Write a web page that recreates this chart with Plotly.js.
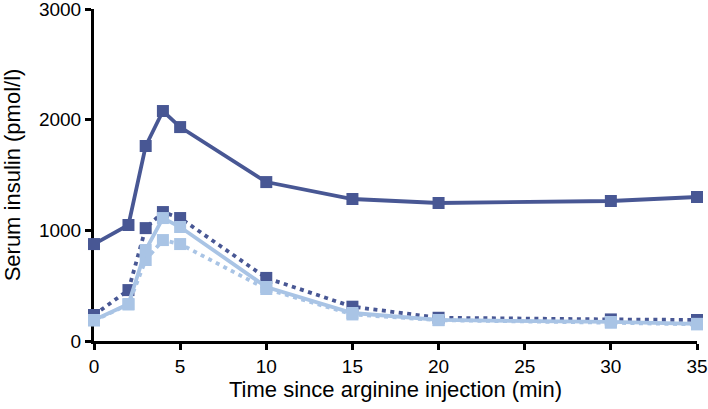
<!DOCTYPE html>
<html><head><meta charset="utf-8">
<script src="https://cdn.plot.ly/plotly-3.0.1.min.js"></script>
<style>html,body{margin:0;padding:0;background:#fff}#c{width:708px;height:409px}</style>
</head><body><div id="c"></div>
<script>
const timeMin = [0, 2, 3, 4, 5, 10, 15, 20, 30, 35];
const darkSolid = [876, 1048, 1762, 2078, 1933, 1436, 1283, 1247, 1265, 1301];
const darkDotted = [235, 460, 1020, 1165, 1111, 570, 310, 210, 195, 190];
const lightSolid = [190, 334, 822, 1111, 1030, 488, 253, 190, 172, 155];
const lightDotted = [185, 330, 732, 912, 876, 470, 240, 188, 165, 150];
const xTicks = [0, 5, 10, 15, 20, 25, 30, 35];
const yTicks = [0, 1000, 2000, 3000];

const dark = '#485794', light = '#a9c4e5';
function tr(y, color, dash, w) {
  return {x: timeMin, y: y, type: 'scatter', mode: 'lines+markers', cliponaxis: false,
    line: {color: color, width: w, dash: dash},
    marker: {symbol: 'square', size: 12, color: color}, showlegend: false};
}
const data = [
  tr(darkSolid, dark, 'solid', 3.8),
  tr(darkDotted, dark, '4px,4.5px', 3.8),
  tr(lightDotted, light, '4px,4.5px', 3.8),
  tr(lightSolid, light, 'solid', 3.8)
];
const layout = {
  width: 708, height: 409,
  margin: {l: 94, r: 11, t: 9, b: 68},
  paper_bgcolor: '#fff', plot_bgcolor: '#fff',
  font: {family: 'Liberation Sans, Arial, sans-serif', size: 19, color: '#000'},
  xaxis: {range: [0, 35], tickvals: xTicks, ticktext: xTicks.map(String), showgrid: false, zeroline: false,
    showline: true, linecolor: '#000', linewidth: 3, ticks: 'outside', ticklen: 6, tickwidth: 3, tickcolor: '#000',
    layer: 'below traces', tickfont: {size: 19}, ticklabeloverflow: 'allow',
    title: {text: 'Time since arginine injection (min)', font: {size: 22}, standoff: 4}},
  yaxis: {range: [0, 3000], tickvals: yTicks, ticktext: yTicks.map(String), showgrid: false, zeroline: false,
    showline: true, linecolor: '#000', linewidth: 3, ticks: 'outside', ticklen: 6, tickwidth: 3, tickcolor: '#000',
    layer: 'below traces', tickfont: {size: 19}, ticklabeloverflow: 'allow',
    title: {text: 'Serum insulin (pmol/l)', font: {size: 22}, standoff: 13}}
};
Plotly.newPlot('c', data, layout, {displayModeBar: false, staticPlot: true});
</script></body></html>
